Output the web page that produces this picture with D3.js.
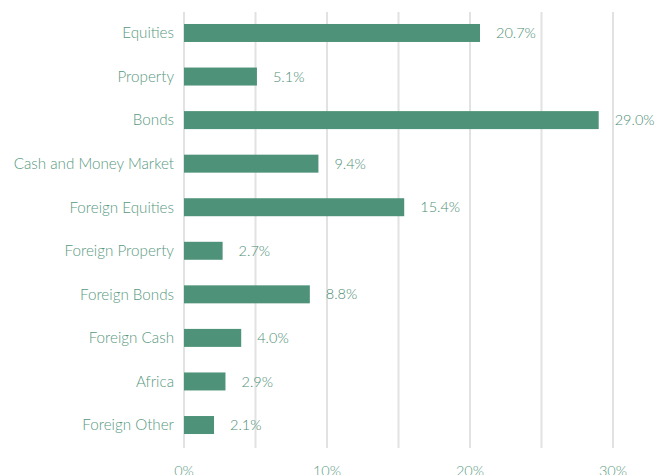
<!DOCTYPE html>
<html>
<head>
<meta charset="utf-8">
<script src="https://cdn.jsdelivr.net/npm/d3@7"></script>
<style>
  html, body { margin: 0; padding: 0; background: #fff; }
  svg text { font-family: Lato, "Open Sans", sans-serif; font-weight: 300; }
</style>
</head>
<body>
<div id="chart"></div>
<script>
  // 数据
  var categories = ['Equities', 'Property', 'Bonds', 'Cash and Money Market', 'Foreign Equities',
    'Foreign Property', 'Foreign Bonds', 'Foreign Cash', 'Africa', 'Foreign Other']
  var values = [20.7, 5.1, 29.0, 9.4, 15.4, 2.7, 8.8, 4.0, 2.9, 2.1]
  var gridTicks = [0, 5, 10, 15, 20, 25, 30]
  var labelTicks = [0, 10, 20, 30]

  var width = 671
  var height = 475
  var gridTop = 12
  var gridBottom = 448

  var svg = d3.select('#chart').append('svg')
    .attr('width', width)
    .attr('height', height)

  var x = d3.scaleLinear()
    .domain([0, 30])
    .range([184, 613])

  var y = d3.scaleBand()
    .domain(categories)
    .range([11.2, 446.8])
    .paddingInner(0.587)
    .paddingOuter(0.2935)

  // 网格线
  svg.append('g')
    .selectAll('line')
    .data(gridTicks)
    .enter()
    .append('line')
    .attr('x1', function(d) { return x(d) })
    .attr('x2', function(d) { return x(d) })
    .attr('y1', gridTop)
    .attr('y2', gridBottom)
    .attr('stroke', '#e2e2e2')
    .attr('stroke-width', 2)

  // 条形
  svg.append('g')
    .selectAll('rect')
    .data(values)
    .enter()
    .append('rect')
    .attr('x', x(0))
    .attr('y', function(d, i) { return y(categories[i]) })
    .attr('width', function(d) { return x(d) - x(0) })
    .attr('height', y.bandwidth())
    .attr('fill', '#4e9379')

  // 数值标签
  svg.append('g')
    .selectAll('text')
    .data(values)
    .enter()
    .append('text')
    .attr('x', function(d) { return x(d) + 16 })
    .attr('y', function(d, i) { return y(categories[i]) + y.bandwidth() / 2 })
    .attr('dy', '0.35em')
    .attr('font-size', 14.5)
    .attr('fill', '#4c8d74')
    .text(function(d) { return d.toFixed(1) + '%' })

  // 类别标签
  svg.append('g')
    .selectAll('text')
    .data(categories)
    .enter()
    .append('text')
    .attr('x', 174)
    .attr('y', function(d) { return y(d) + y.bandwidth() / 2 })
    .attr('dy', '0.35em')
    .attr('text-anchor', 'end')
    .attr('font-size', 15.2)
    .attr('fill', '#579880')
    .text(function(d) { return d })

  // x 轴刻度
  svg.append('g')
    .selectAll('text')
    .data(labelTicks)
    .enter()
    .append('text')
    .attr('x', function(d) { return x(d) })
    .attr('y', 476)
    .attr('text-anchor', 'middle')
    .attr('font-size', 14.5)
    .attr('fill', '#5b9b83')
    .text(function(d) { return d + '%' })
</script>
</body>
</html>
